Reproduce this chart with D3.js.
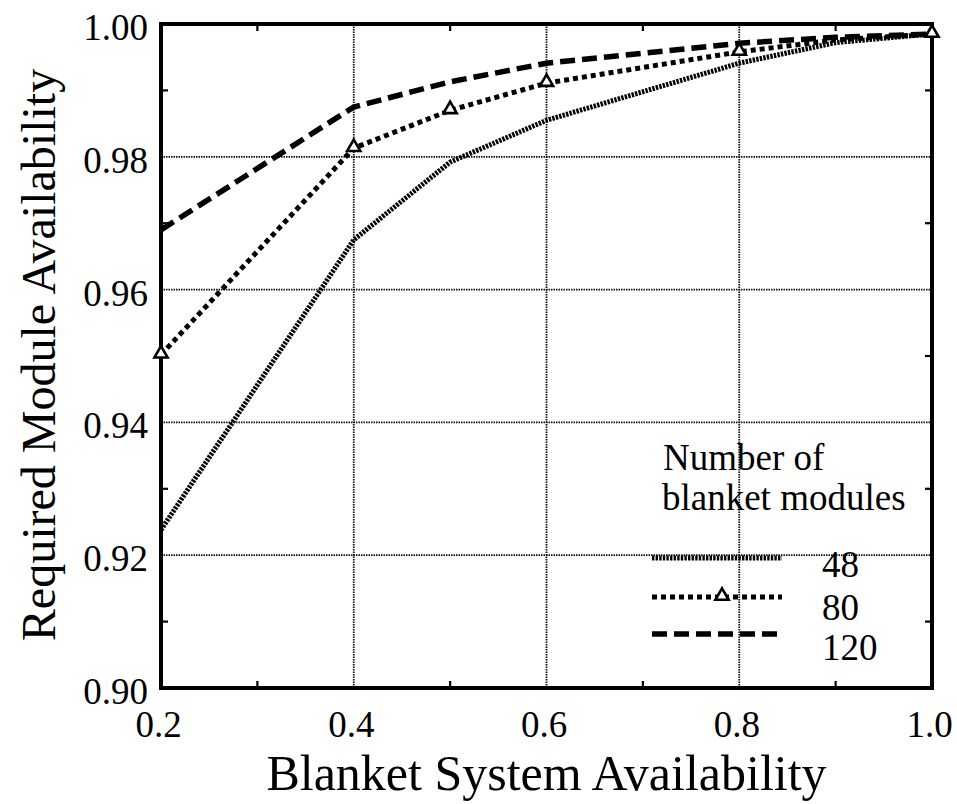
<!DOCTYPE html>
<html><head><meta charset="utf-8">
<script src="https://cdn.jsdelivr.net/npm/d3@7"></script>
<style>body{margin:0;background:#fff}svg{display:block}text{font-family:"Liberation Serif","Times New Roman",serif;fill:#000}</style>
</head><body><svg id="c" width="957" height="804"></svg>
<script>
const xValues = [0.2, 0.4, 0.5, 0.6, 0.8, 0.9, 1.0];
const series48 = [0.9238, 0.9675, 0.9792, 0.9855, 0.9941, 0.9972, 0.9985];
const series80 = [0.9502, 0.9813, 0.9870, 0.9911, 0.9958, 0.9976, 0.9985];
const series120 = [0.9690, 0.9875, 0.9913, 0.9941, 0.9971, 0.9980, 0.9985];
const markers80 = [0.2, 0.4, 0.5, 0.6, 0.8, 1.0];
const seriesNames = ["48", "80", "120"];
const xTicks = [0.2, 0.4, 0.6, 0.8, 1.0];
const yTicks = [0.90, 0.92, 0.94, 0.96, 0.98, 1.00];

const svg = d3.select("#c");
const L = 161, R = 932, T = 24, B = 688;
const x = d3.scaleLinear().domain([0.2, 1.0]).range([L, R]);
const y = d3.scaleLinear().domain([0.90, 1.00]).range([B, T]);

// grid
const g = svg.append("g");
g.selectAll(".gx").data(xTicks.slice(1, -1)).join("line")
  .attr("x1", d => x(d)).attr("x2", d => x(d)).attr("y1", T).attr("y2", B)
  .attr("stroke", "#111").attr("stroke-width", 1.8).attr("stroke-dasharray", "1.5,1");
g.selectAll(".gy").data(yTicks.slice(1, -1)).join("line")
  .attr("x1", L).attr("x2", R).attr("y1", d => y(d)).attr("y2", d => y(d))
  .attr("stroke", "#111").attr("stroke-width", 1.8).attr("stroke-dasharray", "1.5,1");

// minor ticks (inward on all sides)
const xMinor = [0.3, 0.5, 0.7, 0.9];
const yMinor = [0.91, 0.93, 0.95, 0.97, 0.99];
xMinor.forEach(v => {
  g.append("line").attr("x1", x(v)).attr("x2", x(v)).attr("y1", B).attr("y2", B - 7).attr("stroke", "#000").attr("stroke-width", 2.2);
  g.append("line").attr("x1", x(v)).attr("x2", x(v)).attr("y1", T).attr("y2", T + 7).attr("stroke", "#000").attr("stroke-width", 2.2);
});
yMinor.forEach(v => {
  g.append("line").attr("x1", L).attr("x2", L + 7).attr("y1", y(v)).attr("y2", y(v)).attr("stroke", "#000").attr("stroke-width", 2.2);
  g.append("line").attr("x1", R).attr("x2", R - 7).attr("y1", y(v)).attr("y2", y(v)).attr("stroke", "#000").attr("stroke-width", 2.2);
});

// axes
const xAxis = d3.axisBottom(x).tickValues(xTicks).tickFormat(d3.format(".1f")).tickSize(0).tickPadding(23);
const yAxis = d3.axisLeft(y).tickValues(yTicks).tickFormat(d3.format(".2f")).tickSize(0).tickPadding(13);
const gx = svg.append("g").attr("transform", `translate(0,${B})`).call(xAxis);
const gy = svg.append("g").attr("transform", `translate(${L},0)`).call(yAxis);
[gx, gy].forEach(a => {
  a.select(".domain").remove();
  a.attr("font-family", null).attr("font-size", null);
  a.selectAll("text").style("font-size", "37px").style("font-family", '"Liberation Serif",serif').attr("fill", "#000");
});
gy.selectAll("text").attr("dy", "0.42em");
gx.selectAll("text").attr("dx", -3);

// frame
svg.append("rect").attr("x", L).attr("y", T).attr("width", R - L).attr("height", B - T)
  .attr("fill", "none").attr("stroke", "#000").attr("stroke-width", 4);

// series
const line = d3.line().x(d => x(d[0])).y(d => y(d[1]));
const styles = [
  {data: series48, w: 5, dash: "2.4,1.2"},
  {data: series80, w: 5, dash: "5,4"},
  {data: series120, w: 5.5, dash: "15,7"}
];
styles.forEach(s => {
  svg.append("path").datum(xValues.map((v, i) => [v, s.data[i]]))
    .attr("d", line).attr("fill", "none").attr("stroke", "#000")
    .attr("stroke-width", s.w).attr("stroke-dasharray", s.dash);
});
const tri = d3.symbol().type(d3.symbolTriangle).size(75);
svg.selectAll(".m80").data(markers80).join("path")
  .attr("d", tri)
  .attr("transform", d => `translate(${x(d)},${y(series80[xValues.indexOf(d)]) - 1})`)
  .attr("fill", "#fff").attr("stroke", "#000").attr("stroke-width", 2.6);

// axis titles
svg.append("text").attr("x", (L + R) / 2).attr("y", 790).attr("text-anchor", "middle")
  .style("font-size", "50px").text("Blanket System Availability");
svg.append("text").attr("transform", `translate(55,355) rotate(-90)`).attr("text-anchor", "middle")
  .style("font-size", "48px").text("Required Module Availability");

// legend
const lg = svg.append("g");
lg.append("text").attr("x", 663).attr("y", 470).style("font-size", "37px").text("Number of");
lg.append("text").attr("x", 662).attr("y", 510).style("font-size", "37px").text("blanket modules");
const legY = [558, 597, 634];
const legBase = [577, 620, 660];
styles.forEach((s, i) => {
  lg.append("line").attr("x1", 652).attr("x2", 782).attr("y1", legY[i]).attr("y2", legY[i])
    .attr("stroke", "#000").attr("stroke-width", s.w).attr("stroke-dasharray", s.dash);
  lg.append("text").attr("x", 822).attr("y", legBase[i]).style("font-size", "37px").text(seriesNames[i]);
});
lg.append("path").attr("d", tri).attr("transform", `translate(722,${legY[1] - 1})`)
  .attr("fill", "#fff").attr("stroke", "#000").attr("stroke-width", 2.6);
</script></body></html>
